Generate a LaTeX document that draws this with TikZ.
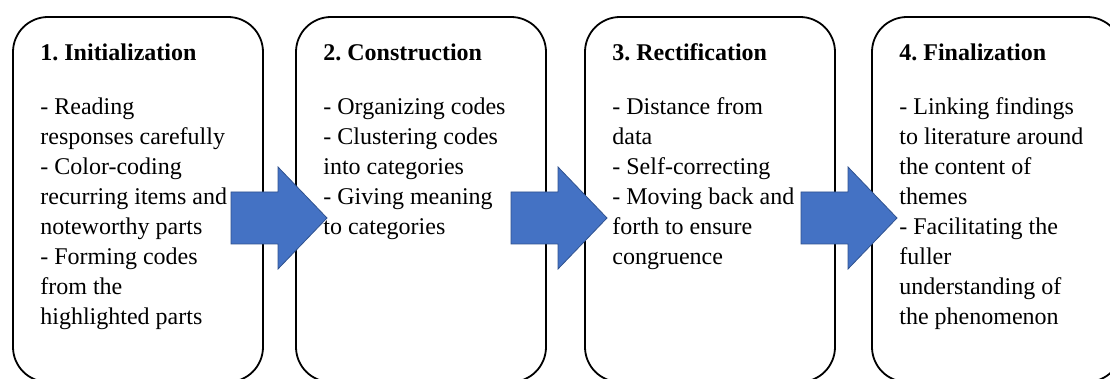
\documentclass[tikz,border=0pt]{standalone}
\usepackage{fontspec}
\setmainfont{Liberation Serif}
\usetikzlibrary{calc,positioning}
\definecolor{arrowblue}{HTML}{4472C4}
\definecolor{arrowedge}{HTML}{2F528F}
\frenchspacing
\tikzset{
  stagebox/.style={draw=black, line width=0.9pt, rounded corners=17.5pt, fill=white,
    minimum width=125pt, minimum height=182.5pt, inner sep=0pt, outer sep=0pt},
  stagetext/.style={anchor=north west, align=left, inner sep=0pt,
    font=\fontsize{12pt}{15pt}\selectfont},
  blockarrow/.style={fill=arrowblue, draw=arrowedge, line width=0.4pt, line join=miter}
}
\begin{document}
\begin{tikzpicture}[x=0.5pt, y=-0.5pt]
  \useasboundingbox (0,0) rectangle (1110,379);
  \clip (0,0) rectangle (1110,379);
  \node[stagebox] (initbox) at (138,199.5) {};
  \node[stagebox, right=16.5pt of initbox] (consbox) {};
  \node[stagebox, right=19.5pt of consbox] (rectbox) {};
  \node[stagebox, right=18.5pt of rectbox] (finbox) {};
  \node[stagetext] (init) at ($(initbox.north west)+(27,26)$)
    {\textbf{1. Initialization}\\[12pt]- Reading\\responses carefully\\- Color-coding\\recurring items and\\noteworthy parts\\- Forming codes\\from the\\highlighted parts};
  \node[stagetext] (cons) at ($(consbox.north west)+(27,26)$)
    {\textbf{2. Construction}\\[12pt]- Organizing codes\\- Clustering codes\\into categories\\- Giving meaning\\to categories};
  \node[stagetext] (rect) at ($(rectbox.north west)+(27,26)$)
    {\textbf{3. Rectification}\\[12pt]- Distance from\\data\\- Self-correcting\\- Moving back and\\forth to ensure\\congruence};
  \node[stagetext] (fin) at ($(finbox.north west)+(27,26)$)
    {\textbf{4. Finalization}\\[12pt]- Linking findings\\to literature around\\the content of\\themes\\- Facilitating the\\fuller\\understanding of\\the phenomenon};
  % block arrows between the stages
  \foreach \x in {231,511,801}
    \filldraw[blockarrow] (\x,192) -- ++(47,0) -- ++(0,-25) -- ++(49,51)
      -- ++(-49,51) -- ++(0,-25) -- ++(-47,0) -- cycle;
\end{tikzpicture}
\end{document}
